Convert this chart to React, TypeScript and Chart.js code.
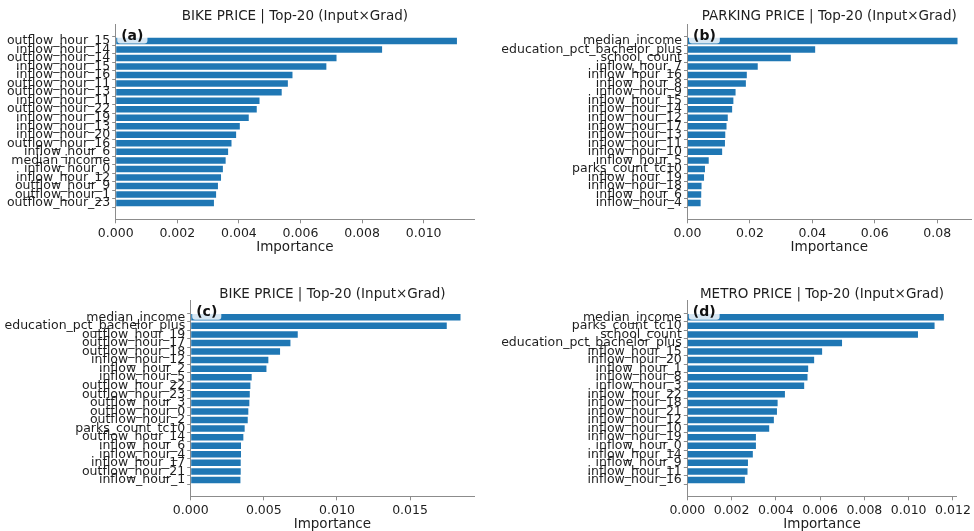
import React, { useEffect, useRef } from "react";
import { Chart, registerables } from "chart.js";

Chart.register(...registerables);

const FONT = "'DejaVu Sans', 'Liberation Sans', sans-serif";
const BAR_COLOR = "#1f77b4";
const TEXT_COLOR = "#1e1e1e";
const AXIS_COLOR = "#8c8c8c";
const TITLE_SUFFIX = " | Top-20 (Input×Grad)";

// ---------- Panel (a) ----------
const aLabels = [
  "outflow_hour_15", "inflow_hour_14", "outflow_hour_14", "inflow_hour_15", "inflow_hour_16",
  "outflow_hour_11", "outflow_hour_13", "inflow_hour_11", "outflow_hour_22", "inflow_hour_19",
  "inflow_hour_13", "inflow_hour_20", "outflow_hour_16", "inflow_hour_6", "median_income",
  "inflow_hour_0", "inflow_hour_12", "outflow_hour_9", "outflow_hour_1", "outflow_hour_23",
];
const aValues = [
  0.01108, 0.00865, 0.00717, 0.00684, 0.00574, 0.00559, 0.00539, 0.00467, 0.00458, 0.00432,
  0.00403, 0.00391, 0.00376, 0.00365, 0.00357, 0.00348, 0.00342, 0.00332, 0.00326, 0.00319,
];

// ---------- Panel (b) ----------
const bLabels = [
  "median_income", "education_pct_bachelor_plus", "school_count", "inflow_hour_7", "inflow_hour_16",
  "inflow_hour_8", "inflow_hour_9", "inflow_hour_15", "inflow_hour_14", "inflow_hour_12",
  "inflow_hour_17", "inflow_hour_13", "inflow_hour_11", "inflow_hour_10", "inflow_hour_5",
  "parks_count_tc10", "inflow_hour_19", "inflow_hour_18", "inflow_hour_6", "inflow_hour_4",
];
const bValues = [
  0.0865, 0.0409, 0.0331, 0.0225, 0.019, 0.0187, 0.0154, 0.0147, 0.0143, 0.0129,
  0.0125, 0.0121, 0.012, 0.0111, 0.0068, 0.0056, 0.0053, 0.0045, 0.0044, 0.0042,
];

// ---------- Panel (c) ----------
const cLabels = [
  "median_income", "education_pct_bachelor_plus", "outflow_hour_19", "outflow_hour_17", "outflow_hour_18",
  "inflow_hour_12", "inflow_hour_2", "inflow_hour_5", "outflow_hour_22", "outflow_hour_23",
  "outflow_hour_3", "outflow_hour_0", "outflow_hour_2", "parks_count_tc10", "outflow_hour_14",
  "inflow_hour_6", "inflow_hour_4", "inflow_hour_17", "outflow_hour_21", "inflow_hour_1",
];
const cValues = [
  0.01845, 0.01751, 0.00732, 0.00682, 0.00611, 0.00531, 0.00518, 0.00417, 0.00408, 0.00404,
  0.00401, 0.00394, 0.0039, 0.00369, 0.0036, 0.00344, 0.00344, 0.00342, 0.00342, 0.0034,
];

// ---------- Panel (d) ----------
const dLabels = [
  "median_income", "parks_count_tc10", "school_count", "education_pct_bachelor_plus", "inflow_hour_15",
  "inflow_hour_20", "inflow_hour_1", "inflow_hour_8", "inflow_hour_3", "inflow_hour_22",
  "inflow_hour_18", "inflow_hour_21", "inflow_hour_12", "inflow_hour_10", "inflow_hour_19",
  "inflow_hour_0", "inflow_hour_14", "inflow_hour_9", "inflow_hour_11", "inflow_hour_16",
];
const dValues = [
  0.01159, 0.01117, 0.01042, 0.00699, 0.00609, 0.00573, 0.00546, 0.00543, 0.00528, 0.00441,
  0.00408, 0.00405, 0.00391, 0.0037, 0.0031, 0.0031, 0.00296, 0.00274, 0.00272, 0.0026,
];

type PanelProps = {
  title: string;
  tag: string;
  labels: string[];
  values: number[];
  step: number;
  decimals: number;
  x0: number;
  y0: number;
  w: number;
  h: number;
  left: number;
  right: number;
  top: number;
  bottom: number;
  titleY: number;
  xTitlePad: number;
};

const TITLE_SIZE = 13.5;
const TICK_SIZE = 12.5;
const XTITLE_SIZE = 13.5;

function Panel(p: PanelProps) {
  const ref = useRef<HTMLCanvasElement | null>(null);

  useEffect(() => {
    if (!ref.current) return;
    const n = p.labels.length;
    const yMargin = (n - 1 + 0.8) * 0.05;
    const yMin = -0.4 - yMargin;
    const yMax = n - 1 + 0.4 + yMargin;
    const xMax = Math.max(...p.values) * 1.05;
    const titleLH = TITLE_SIZE * 1.2;
    const titlePadTop = p.titleY - titleLH / 2;
    const titlePadBottom = p.top - titlePadTop - titleLH;

    const tagPlugin = {
      id: "tagBox",
      afterDatasetsDraw(chart: any) {
        const { ctx, chartArea } = chart;
        ctx.save();
        ctx.font = `bold 14px ${FONT}`;
        const tw = ctx.measureText(p.tag).width;
        const bx = chartArea.left + 1.5;
        const by = chartArea.top + 3.2;
        const bw = tw + 8;
        const bh = 16;
        const r = 3;
        ctx.fillStyle = "rgba(255,255,255,0.82)";
        ctx.beginPath();
        ctx.moveTo(bx + r, by);
        ctx.lineTo(bx + bw - r, by);
        ctx.quadraticCurveTo(bx + bw, by, bx + bw, by + r);
        ctx.lineTo(bx + bw, by + bh - r);
        ctx.quadraticCurveTo(bx + bw, by + bh, bx + bw - r, by + bh);
        ctx.lineTo(bx + r, by + bh);
        ctx.quadraticCurveTo(bx, by + bh, bx, by + bh - r);
        ctx.lineTo(bx, by + r);
        ctx.quadraticCurveTo(bx, by, bx + r, by);
        ctx.closePath();
        ctx.fill();
        ctx.fillStyle = "#111";
        ctx.textBaseline = "middle";
        ctx.textAlign = "left";
        ctx.fillText(p.tag, bx + 4, by + bh / 2 + 0.5);
        ctx.restore();
      },
    };

    const chart = new Chart(ref.current, {
      type: "bar",
      data: {
        datasets: [
          {
            data: p.values.map((v, i) => ({ x: v, y: i })),
            backgroundColor: BAR_COLOR,
            borderWidth: 0,
            categoryPercentage: 1,
            barPercentage: 0.76,
          },
        ],
      },
      options: {
        indexAxis: "y",
        responsive: false,
        animation: false,
        events: [],
        layout: { padding: { left: 0, right: p.w - p.right, top: 0, bottom: 0 } },
        plugins: {
          legend: { display: false },
          tooltip: { enabled: false },
          title: {
            display: true,
            text: p.title,
            fullSize: false,
            color: TEXT_COLOR,
            font: { family: FONT, size: TITLE_SIZE, weight: "normal", lineHeight: 1.2 },
            padding: { top: titlePadTop, bottom: titlePadBottom },
          },
        },
        scales: {
          x: {
            type: "linear",
            min: 0,
            max: xMax,
            grid: {
              display: true,
              drawOnChartArea: false,
              drawTicks: true,
              tickLength: 3.5,
              color: AXIS_COLOR,
              lineWidth: 1,
            },
            border: { display: true, color: AXIS_COLOR, width: 1 },
            afterBuildTicks: (scale: any) => {
              const t: any[] = [];
              for (let k = 0; k * p.step <= xMax + 1e-12; k++) t.push({ value: k * p.step });
              scale.ticks = t;
            },
            afterFit: (scale: any) => {
              scale.height = p.h - p.bottom;
            },
            ticks: {
              color: TEXT_COLOR,
              font: { family: FONT, size: TICK_SIZE },
              padding: 2.5,
              maxRotation: 0,
              autoSkip: false,
              callback: (v: any) => Number(v).toFixed(p.decimals),
            },
            title: {
              display: true,
              text: "Importance",
              color: TEXT_COLOR,
              font: { family: FONT, size: XTITLE_SIZE, lineHeight: 1.2 },
              padding: { top: 0, bottom: p.xTitlePad },
            },
          },
          y: {
            type: "linear",
            reverse: true,
            min: yMin,
            max: yMax,
            grid: {
              display: true,
              drawOnChartArea: false,
              drawTicks: true,
              tickLength: 3.5,
              color: AXIS_COLOR,
              lineWidth: 1,
            },
            border: { display: true, color: AXIS_COLOR, width: 1 },
            afterBuildTicks: (scale: any) => {
              scale.ticks = p.labels.map((_, i) => ({ value: i }));
            },
            afterFit: (scale: any) => {
              scale.width = p.left;
            },
            ticks: {
              color: TEXT_COLOR,
              font: { family: FONT, size: TICK_SIZE },
              padding: 2,
              autoSkip: false,
              callback: (v: any) => p.labels[Math.round(Number(v))] ?? "",
            },
          },
        },
      },
      plugins: [tagPlugin],
    } as any);

    return () => chart.destroy();
  }, []);

  return (
    <div style={{ position: "absolute", left: p.x0, top: p.y0, width: p.w, height: p.h }}>
      <canvas ref={ref} width={p.w} height={p.h} style={{ width: p.w, height: p.h, display: "block" }} />
    </div>
  );
}

export default function App() {
  return (
    <div
      style={{
        position: "absolute",
        left: 0,
        top: 0,
        width: 974,
        height: 531,
        background: "#ffffff",
        overflow: "hidden",
      }}
    >
      <Panel
        title={"BIKE PRICE" + TITLE_SUFFIX}
        tag="(a)"
        labels={aLabels}
        values={aValues}
        step={0.002}
        decimals={3}
        x0={0}
        y0={0}
        w={480}
        h={260}
        left={115.7}
        right={474}
        top={24.2}
        bottom={219.8}
        titleY={16}
        xTitlePad={4.5}
      />
      <Panel
        title={"PARKING PRICE" + TITLE_SUFFIX}
        tag="(b)"
        labels={bLabels}
        values={bValues}
        step={0.02}
        decimals={2}
        x0={480}
        y0={0}
        w={494}
        h={260}
        left={207.5}
        right={491}
        top={24.2}
        bottom={219.8}
        titleY={16}
        xTitlePad={4.5}
      />
      <Panel
        title={"BIKE PRICE" + TITLE_SUFFIX}
        tag="(c)"
        labels={cLabels}
        values={cValues}
        step={0.005}
        decimals={3}
        x0={0}
        y0={260}
        w={480}
        h={271}
        left={190.7}
        right={474}
        top={40.5}
        bottom={236.8}
        titleY={34}
        xTitlePad={-1.2}
      />
      <Panel
        title={"METRO PRICE" + TITLE_SUFFIX}
        tag="(d)"
        labels={dLabels}
        values={dValues}
        step={0.002}
        decimals={3}
        x0={480}
        y0={260}
        w={494}
        h={271}
        left={207.3}
        right={476.7}
        top={40.5}
        bottom={236.8}
        titleY={34}
        xTitlePad={-1.2}
      />
    </div>
  );
}
